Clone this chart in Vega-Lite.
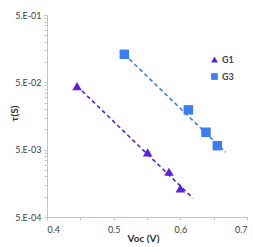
{
  "$schema": "https://vega.github.io/schema/vega-lite/v6.json",
  "width": 200,
  "height": 202,
  "autosize": {"type": "none"},
  "padding": {"left": 47, "top": 15, "right": 6, "bottom": 30},
  "background": "white",
  "config": {
    "view": {"stroke": null},
    "font": "Lato",
    "axis": {"grid": false, "domainColor": "#b7c9c9", "tickColor": "#b7c9c9", "labelColor": "#404040", "titleColor": "#303030", "labelFont": "Lato", "titleFont": "Lato", "labelFontSize": 9, "titleFontSize": 10, "titleFontWeight": "bold", "tickSize": 3},
    "legend": {"orient": "none", "legendX": 163, "legendY": 40, "labelFontSize": 9, "labelFontWeight": "bold", "labelColor": "#404040", "symbolSize": 45, "rowPadding": 7, "labelFont": "Lato", "labelOffset": 3, "symbolStrokeWidth": 0, "symbolOpacity": 1}
  },
  "data": {"values": [
    {"series": "G1", "kind": "pt", "v": 0.445, "tau": 0.044},
    {"series": "G1", "kind": "pt", "v": 0.551, "tau": 0.00457},
    {"series": "G1", "kind": "pt", "v": 0.583, "tau": 0.00235},
    {"series": "G1", "kind": "pt", "v": 0.600, "tau": 0.00133},
    {"series": "G3", "kind": "pt", "v": 0.516, "tau": 0.1306},
    {"series": "G3", "kind": "pt", "v": 0.612, "tau": 0.0195},
    {"series": "G3", "kind": "pt", "v": 0.6385, "tau": 0.00907},
    {"series": "G3", "kind": "pt", "v": 0.6555, "tau": 0.00573},
    {"series": "G1", "kind": "fit", "v": 0.445, "tau": 0.044},
    {"series": "G1", "kind": "fit", "v": 0.619, "tau": 0.00095},
    {"series": "G3", "kind": "fit", "v": 0.516, "tau": 0.1306},
    {"series": "G3", "kind": "fit", "v": 0.668, "tau": 0.00457}
  ]},
  "encoding": {
    "x": {"field": "v", "type": "quantitative",
      "scale": {"domain": [0.4, 0.7], "nice": false, "zero": false},
      "axis": {"title": "Voc (V)", "values": [0.4, 0.45, 0.5, 0.55, 0.6, 0.65, 0.7],
        "labelExpr": "(abs(datum.value*10 - round(datum.value*10)) < 0.01) ? format(datum.value, '.1f') : ''",
        "labelOverlap": false, "labelPadding": 5, "titleX": 96, "titleY": 21, "titleBaseline": "middle", "titleAlign": "center"}},
    "y": {"field": "tau", "type": "quantitative",
      "scale": {"type": "log", "domain": [0.0005, 0.5], "nice": false},
      "axis": {"title": "τ(S)", "values": [0.0005, 0.001, 0.0015, 0.002, 0.0025, 0.003, 0.0035, 0.004, 0.0045, 0.005, 0.01, 0.015, 0.02, 0.025, 0.03, 0.035, 0.04, 0.045, 0.05, 0.1, 0.15, 0.2, 0.25, 0.3, 0.35, 0.4, 0.45, 0.5],
        "labelExpr": "datum.value == 0.5 ? '5.E-01' : datum.value == 0.05 ? '5.E-02' : datum.value == 0.005 ? '5.E-03' : datum.value == 0.0005 ? '5.E-04' : ''",
        "labelOverlap": false, "labelPadding": 3, "titleX": -33, "titleY": 98, "titleAngle": -90, "titleAlign": "center", "titleBaseline": "middle"}},
    "color": {"field": "series", "type": "nominal", "title": null,
      "scale": {"domain": ["G1", "G3"], "range": ["#5a20e4", "#3c7cf0"]}}
  },
  "layer": [
    {
      "transform": [{"filter": "datum.kind == 'fit'"}],
      "mark": {"type": "line", "strokeDash": [4, 3], "strokeWidth": 1.6},
      "encoding": {}
    },
    {
      "transform": [{"filter": "datum.kind == 'pt'"}],
      "mark": {"type": "point", "filled": true, "opacity": 1, "size": 90},
      "encoding": {
        "shape": {"field": "series", "type": "nominal", "title": null,
          "scale": {"domain": ["G1", "G3"], "range": ["triangle-up", "square"]}}
      }
    }
  ]
}
